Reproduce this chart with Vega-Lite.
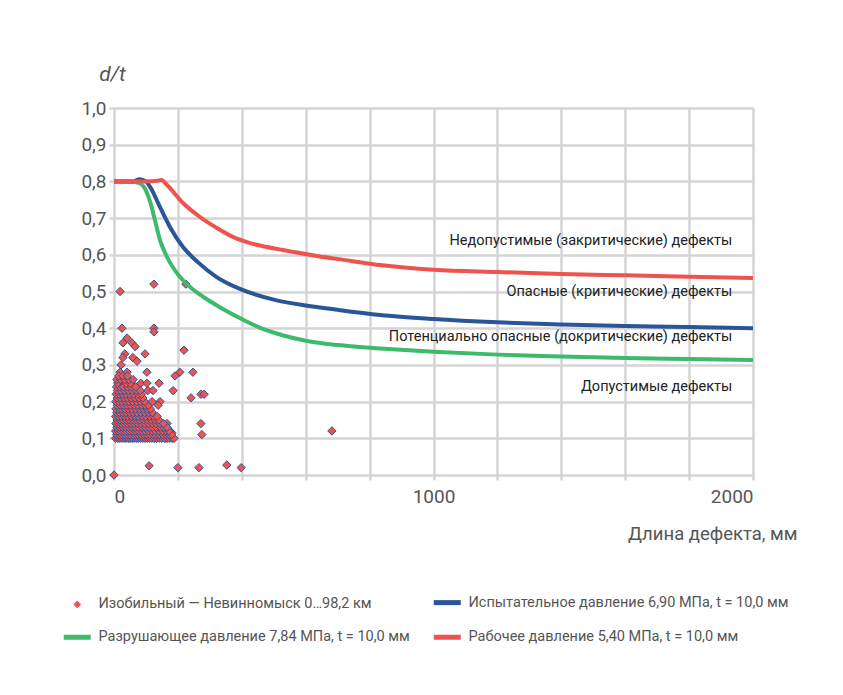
{
  "$schema": "https://vega.github.io/schema/vega-lite/v6.json",
  "autosize": {"type": "none"},
  "padding": {"left": 114, "top": 108, "right": 90, "bottom": 220},
  "width": 639,
  "height": 367,
  "background": "white",
  "config": {
    "font": "Roboto",
    "view": {"stroke": null},
    "axis": {
      "grid": true, "gridColor": "#d4d4d4", "gridWidth": 2.5,
      "domain": false, "tickColor": "#d4d4d4", "tickWidth": 2.5, "tickSize": 6,
      "labelColor": "#555555", "labelFontSize": 19, "titleColor": "#555555",
      "titleFontWeight": "normal", "titleFontSize": 18.5
    }
  },
  "datasets": {
    "curves": [
      {"s": "fail", "len": 0, "dt": 0.8}, {"s": "fail", "len": 50, "dt": 0.8}, {"s": "fail", "len": 80, "dt": 0.795},
      {"s": "fail", "len": 100, "dt": 0.775}, {"s": "fail", "len": 113, "dt": 0.745}, {"s": "fail", "len": 128, "dt": 0.695},
      {"s": "fail", "len": 144, "dt": 0.64}, {"s": "fail", "len": 166, "dt": 0.594}, {"s": "fail", "len": 197, "dt": 0.55},
      {"s": "fail", "len": 238, "dt": 0.512}, {"s": "fail", "len": 280, "dt": 0.485}, {"s": "fail", "len": 330, "dt": 0.458},
      {"s": "fail", "len": 400, "dt": 0.425}, {"s": "fail", "len": 460, "dt": 0.4}, {"s": "fail", "len": 530, "dt": 0.38},
      {"s": "fail", "len": 600, "dt": 0.366}, {"s": "fail", "len": 700, "dt": 0.354}, {"s": "fail", "len": 833, "dt": 0.345},
      {"s": "fail", "len": 1000, "dt": 0.336}, {"s": "fail", "len": 1200, "dt": 0.328}, {"s": "fail", "len": 1400, "dt": 0.323},
      {"s": "fail", "len": 1600, "dt": 0.319}, {"s": "fail", "len": 1800, "dt": 0.316}, {"s": "fail", "len": 2000, "dt": 0.313},
      {"s": "test", "len": 0, "dt": 0.8}, {"s": "test", "len": 60, "dt": 0.8}, {"s": "test", "len": 80, "dt": 0.806},
      {"s": "test", "len": 100, "dt": 0.8}, {"s": "test", "len": 113, "dt": 0.785}, {"s": "test", "len": 144, "dt": 0.73},
      {"s": "test", "len": 175, "dt": 0.676}, {"s": "test", "len": 216, "dt": 0.621}, {"s": "test", "len": 265, "dt": 0.578},
      {"s": "test", "len": 320, "dt": 0.54}, {"s": "test", "len": 400, "dt": 0.505}, {"s": "test", "len": 500, "dt": 0.478},
      {"s": "test", "len": 600, "dt": 0.462}, {"s": "test", "len": 700, "dt": 0.45}, {"s": "test", "len": 833, "dt": 0.436},
      {"s": "test", "len": 1000, "dt": 0.425}, {"s": "test", "len": 1200, "dt": 0.416}, {"s": "test", "len": 1400, "dt": 0.41},
      {"s": "test", "len": 1600, "dt": 0.406}, {"s": "test", "len": 1800, "dt": 0.403}, {"s": "test", "len": 2000, "dt": 0.4},
      {"s": "work", "len": 0, "dt": 0.8}, {"s": "work", "len": 100, "dt": 0.8}, {"s": "work", "len": 135, "dt": 0.802},
      {"s": "work", "len": 148, "dt": 0.804}, {"s": "work", "len": 166, "dt": 0.79}, {"s": "work", "len": 216, "dt": 0.741},
      {"s": "work", "len": 269, "dt": 0.703}, {"s": "work", "len": 322, "dt": 0.673}, {"s": "work", "len": 372, "dt": 0.649},
      {"s": "work", "len": 426, "dt": 0.632}, {"s": "work", "len": 529, "dt": 0.613}, {"s": "work", "len": 635, "dt": 0.597},
      {"s": "work", "len": 738, "dt": 0.584}, {"s": "work", "len": 833, "dt": 0.572}, {"s": "work", "len": 1000, "dt": 0.559},
      {"s": "work", "len": 1200, "dt": 0.553}, {"s": "work", "len": 1400, "dt": 0.548}, {"s": "work", "len": 1600, "dt": 0.544},
      {"s": "work", "len": 1800, "dt": 0.54}, {"s": "work", "len": 2000, "dt": 0.537}
    ],
    "defects": [
      {"len": 19, "dt": 0.5}, {"len": 125, "dt": 0.52}, {"len": 225, "dt": 0.52}, {"len": 25, "dt": 0.4}, {"len": 125, "dt": 0.4},
      {"len": 125, "dt": 0.39}, {"len": 41, "dt": 0.373}, {"len": 28, "dt": 0.36}, {"len": 56, "dt": 0.36}, {"len": 66, "dt": 0.35},
      {"len": 219, "dt": 0.34}, {"len": 34, "dt": 0.33}, {"len": 97, "dt": 0.33}, {"len": 28, "dt": 0.32}, {"len": 59, "dt": 0.32},
      {"len": 72, "dt": 0.31}, {"len": 22, "dt": 0.3}, {"len": 19, "dt": 0.28}, {"len": 41, "dt": 0.28}, {"len": 103, "dt": 0.28},
      {"len": 206, "dt": 0.28}, {"len": 191, "dt": 0.27}, {"len": 247, "dt": 0.28}, {"len": 25, "dt": 0.25}, {"len": 84, "dt": 0.25},
      {"len": 103, "dt": 0.25}, {"len": 141, "dt": 0.25}, {"len": 185, "dt": 0.23}, {"len": 241, "dt": 0.21}, {"len": 272, "dt": 0.22},
      {"len": 282, "dt": 0.22}, {"len": 144, "dt": 0.2}, {"len": 138, "dt": 0.19}, {"len": 166, "dt": 0.14}, {"len": 272, "dt": 0.14},
      {"len": 275, "dt": 0.11}, {"len": 181, "dt": 0.115}, {"len": 175, "dt": 0.12}, {"len": 160, "dt": 0.1}, {"len": 110, "dt": 0.025},
      {"len": 200, "dt": 0.02}, {"len": 266, "dt": 0.02}, {"len": 353, "dt": 0.027}, {"len": 398, "dt": 0.02}, {"len": 0, "dt": 0.0},
      {"len": 682, "dt": 0.12}, {"len": 106, "dt": 0.23}, {"len": 122, "dt": 0.23},
      {"len": 5, "dt": 0.1}, {"len": 12, "dt": 0.1}, {"len": 18, "dt": 0.1}, {"len": 25, "dt": 0.1}, {"len": 31, "dt": 0.1},
      {"len": 38, "dt": 0.1}, {"len": 44, "dt": 0.1}, {"len": 50, "dt": 0.1}, {"len": 57, "dt": 0.1}, {"len": 63, "dt": 0.1},
      {"len": 70, "dt": 0.1}, {"len": 76, "dt": 0.1}, {"len": 83, "dt": 0.1}, {"len": 90, "dt": 0.1}, {"len": 97, "dt": 0.1},
      {"len": 104, "dt": 0.1}, {"len": 111, "dt": 0.1}, {"len": 118, "dt": 0.1}, {"len": 126, "dt": 0.1}, {"len": 134, "dt": 0.1},
      {"len": 142, "dt": 0.1}, {"len": 150, "dt": 0.1}, {"len": 158, "dt": 0.1}, {"len": 166, "dt": 0.1}, {"len": 174, "dt": 0.1},
      {"len": 182, "dt": 0.1}, {"len": 188, "dt": 0.1},
      {"len": 8, "dt": 0.11}, {"len": 16, "dt": 0.11}, {"len": 24, "dt": 0.11}, {"len": 33, "dt": 0.11}, {"len": 41, "dt": 0.11},
      {"len": 50, "dt": 0.11}, {"len": 58, "dt": 0.11}, {"len": 66, "dt": 0.11}, {"len": 75, "dt": 0.11}, {"len": 84, "dt": 0.11},
      {"len": 93, "dt": 0.11}, {"len": 102, "dt": 0.11}, {"len": 112, "dt": 0.11}, {"len": 122, "dt": 0.11}, {"len": 132, "dt": 0.11},
      {"len": 142, "dt": 0.11}, {"len": 153, "dt": 0.11}, {"len": 163, "dt": 0.11}, {"len": 172, "dt": 0.11}, {"len": 180, "dt": 0.11},
      {"len": 5, "dt": 0.12}, {"len": 13, "dt": 0.12}, {"len": 21, "dt": 0.12}, {"len": 30, "dt": 0.12}, {"len": 39, "dt": 0.12},
      {"len": 48, "dt": 0.12}, {"len": 57, "dt": 0.12}, {"len": 67, "dt": 0.12}, {"len": 77, "dt": 0.12}, {"len": 87, "dt": 0.12},
      {"len": 97, "dt": 0.12}, {"len": 108, "dt": 0.12}, {"len": 119, "dt": 0.12}, {"len": 130, "dt": 0.12}, {"len": 141, "dt": 0.12},
      {"len": 152, "dt": 0.12}, {"len": 163, "dt": 0.12}, {"len": 172, "dt": 0.12},
      {"len": 9, "dt": 0.13}, {"len": 18, "dt": 0.13}, {"len": 27, "dt": 0.13}, {"len": 36, "dt": 0.13}, {"len": 46, "dt": 0.13},
      {"len": 56, "dt": 0.13}, {"len": 66, "dt": 0.13}, {"len": 77, "dt": 0.13}, {"len": 88, "dt": 0.13}, {"len": 99, "dt": 0.13},
      {"len": 110, "dt": 0.13}, {"len": 121, "dt": 0.13}, {"len": 133, "dt": 0.13}, {"len": 145, "dt": 0.13}, {"len": 156, "dt": 0.13},
      {"len": 166, "dt": 0.13},
      {"len": 6, "dt": 0.14}, {"len": 14, "dt": 0.14}, {"len": 23, "dt": 0.14}, {"len": 32, "dt": 0.14}, {"len": 42, "dt": 0.14},
      {"len": 52, "dt": 0.14}, {"len": 63, "dt": 0.14}, {"len": 74, "dt": 0.14}, {"len": 85, "dt": 0.14}, {"len": 96, "dt": 0.14},
      {"len": 108, "dt": 0.14}, {"len": 120, "dt": 0.14}, {"len": 132, "dt": 0.14}, {"len": 144, "dt": 0.14}, {"len": 155, "dt": 0.14},
      {"len": 10, "dt": 0.15}, {"len": 19, "dt": 0.15}, {"len": 28, "dt": 0.15}, {"len": 38, "dt": 0.15}, {"len": 48, "dt": 0.15},
      {"len": 59, "dt": 0.15}, {"len": 70, "dt": 0.15}, {"len": 81, "dt": 0.15}, {"len": 93, "dt": 0.15}, {"len": 105, "dt": 0.15},
      {"len": 117, "dt": 0.15}, {"len": 129, "dt": 0.15}, {"len": 140, "dt": 0.15},
      {"len": 5, "dt": 0.16}, {"len": 14, "dt": 0.16}, {"len": 23, "dt": 0.16}, {"len": 33, "dt": 0.16}, {"len": 43, "dt": 0.16},
      {"len": 54, "dt": 0.16}, {"len": 65, "dt": 0.16}, {"len": 76, "dt": 0.16}, {"len": 88, "dt": 0.16}, {"len": 100, "dt": 0.16},
      {"len": 112, "dt": 0.16}, {"len": 124, "dt": 0.16}, {"len": 135, "dt": 0.16},
      {"len": 9, "dt": 0.17}, {"len": 18, "dt": 0.17}, {"len": 28, "dt": 0.17}, {"len": 38, "dt": 0.17}, {"len": 49, "dt": 0.17},
      {"len": 60, "dt": 0.17}, {"len": 72, "dt": 0.17}, {"len": 84, "dt": 0.17}, {"len": 96, "dt": 0.17}, {"len": 108, "dt": 0.17},
      {"len": 120, "dt": 0.17},
      {"len": 6, "dt": 0.18}, {"len": 15, "dt": 0.18}, {"len": 24, "dt": 0.18}, {"len": 34, "dt": 0.18}, {"len": 45, "dt": 0.18},
      {"len": 56, "dt": 0.18}, {"len": 68, "dt": 0.18}, {"len": 80, "dt": 0.18}, {"len": 92, "dt": 0.18}, {"len": 104, "dt": 0.18},
      {"len": 114, "dt": 0.18},
      {"len": 10, "dt": 0.19}, {"len": 19, "dt": 0.19}, {"len": 29, "dt": 0.19}, {"len": 40, "dt": 0.19}, {"len": 51, "dt": 0.19},
      {"len": 63, "dt": 0.19}, {"len": 75, "dt": 0.19}, {"len": 87, "dt": 0.19}, {"len": 98, "dt": 0.19}, {"len": 108, "dt": 0.19},
      {"len": 6, "dt": 0.2}, {"len": 15, "dt": 0.2}, {"len": 25, "dt": 0.2}, {"len": 36, "dt": 0.2}, {"len": 47, "dt": 0.2},
      {"len": 59, "dt": 0.2}, {"len": 71, "dt": 0.2}, {"len": 83, "dt": 0.2}, {"len": 96, "dt": 0.2}, {"len": 119, "dt": 0.2},
      {"len": 10, "dt": 0.21}, {"len": 20, "dt": 0.21}, {"len": 31, "dt": 0.21}, {"len": 42, "dt": 0.21}, {"len": 54, "dt": 0.21},
      {"len": 66, "dt": 0.21}, {"len": 78, "dt": 0.21}, {"len": 90, "dt": 0.21},
      {"len": 7, "dt": 0.22}, {"len": 16, "dt": 0.22}, {"len": 27, "dt": 0.22}, {"len": 38, "dt": 0.22}, {"len": 50, "dt": 0.22},
      {"len": 62, "dt": 0.22}, {"len": 75, "dt": 0.22}, {"len": 86, "dt": 0.22},
      {"len": 11, "dt": 0.23}, {"len": 22, "dt": 0.23}, {"len": 33, "dt": 0.23}, {"len": 45, "dt": 0.23}, {"len": 57, "dt": 0.23},
      {"len": 70, "dt": 0.23}, {"len": 82, "dt": 0.23},
      {"len": 8, "dt": 0.24}, {"len": 18, "dt": 0.24}, {"len": 30, "dt": 0.24}, {"len": 42, "dt": 0.24}, {"len": 55, "dt": 0.24},
      {"len": 68, "dt": 0.24},
      {"len": 12, "dt": 0.25}, {"len": 38, "dt": 0.25}, {"len": 52, "dt": 0.25},
      {"len": 9, "dt": 0.26}, {"len": 20, "dt": 0.26}, {"len": 33, "dt": 0.26}, {"len": 47, "dt": 0.26}, {"len": 60, "dt": 0.26},
      {"len": 15, "dt": 0.27}, {"len": 28, "dt": 0.27}, {"len": 42, "dt": 0.27}
    ],
    "zones": [
      {"len": 1935, "dt": 0.638, "label": "Недопустимые (закритические) дефекты"},
      {"len": 1935, "dt": 0.499, "label": "Опасные (критические) дефекты"},
      {"len": 1935, "dt": 0.376, "label": "Потенциально опасные (докритические) дефекты"},
      {"len": 1935, "dt": 0.24, "label": "Допустимые дефекты"}
    ]
  },
  "encoding": {
    "x": {
      "field": "len", "type": "quantitative",
      "scale": {"domain": [0, 2000], "nice": false, "zero": false},
      "axis": {
        "values": [0, 200, 400, 600, 800, 1000, 1200, 1400, 1600, 1800, 2000],
        "labelExpr": "datum.value % 1000 === 0 ? format(datum.value, 'd') : ''",
        "labelPadding": 7, "tickSize": 5,
        "title": "Длина дефекта, мм",
        "titleAnchor": null, "titleAlign": "right", "titleBaseline": "alphabetic",
        "titleX": 683, "titleY": 64
      }
    },
    "y": {
      "field": "dt", "type": "quantitative",
      "scale": {"domain": [0, 1], "nice": false},
      "axis": {
        "values": [0, 0.1, 0.2, 0.3, 0.4, 0.5, 0.6, 0.7, 0.8, 0.9, 1.0],
        "labelExpr": "replace(format(datum.value, '.1f'), '.', ',')",
        "labelPadding": 3, "tickSize": 5,
        "title": "d/t", "titleAngle": 0, "titleFontStyle": "italic", "titleFontSize": 21,
        "titleAnchor": null, "titleAlign": "center", "titleBaseline": "alphabetic",
        "titleX": -2, "titleY": -28
      }
    }
  },
  "layer": [
    {
      "data": {"name": "defects"},
      "mark": {"type": "point", "shape": "diamond", "filled": true, "size": 70, "stroke": "#2a5599", "strokeWidth": 1, "opacity": 1},
      "encoding": {
        "color": {
          "datum": "pts",
          "scale": {"domain": ["pts", "test", "fail", "work"], "range": ["#ef5350", "#2a5599", "#3dbb6b", "#ef5350"]}
        }
      }
    },
    {
      "data": {"name": "curves"},
      "mark": {"type": "line", "strokeWidth": 4, "interpolate": "monotone"},
      "encoding": {
        "color": {
          "field": "s", "type": "nominal",
          "scale": {"domain": ["pts", "test", "fail", "work"], "range": ["#ef5350", "#2a5599", "#3dbb6b", "#ef5350"]},
          "legend": {
            "title": null, "orient": "none", "legendX": -44, "legendY": 487,
            "columns": 2, "direction": "horizontal", "columnPadding": 13, "rowPadding": 14,
            "labelFontSize": 14.5, "labelColor": "#555555", "labelOffset": 14, "labelLimit": 500,
            "labelExpr": "datum.value == 'pts' ? 'Изобильный — Невинномыск 0…98,2 км' : datum.value == 'test' ? 'Испытательное давление 6,90 МПа, t = 10,0 мм' : datum.value == 'fail' ? 'Разрушающее давление 7,84 МПа, t = 10,0 мм' : 'Рабочее давление 5,40 МПа, t = 10,0 мм'",
            "encode": {
              "symbols": {
                "update": {
                  "shape": {"signal": "datum.value == 'pts' ? 'diamond' : 'stroke'"},
                  "size": {"signal": "datum.value == 'pts' ? 45 : 729"},
                  "fill": {"signal": "datum.value == 'pts' ? '#ef5350' : 'transparent'"},
                  "stroke": {"signal": "datum.value == 'pts' ? '#2a5599' : datum.value == 'test' ? '#2a5599' : datum.value == 'fail' ? '#3dbb6b' : '#ef5350'"},
                  "strokeWidth": {"signal": "datum.value == 'pts' ? 1 : 5"},
                  "opacity": {"value": 1}
                }
              }
            }
          }
        },
        "order": {"field": "s", "sort": "ascending"}
      }
    },
    {
      "data": {"name": "zones"},
      "mark": {"type": "text", "align": "right", "baseline": "middle", "fontSize": 14.5, "color": "#222222"},
      "encoding": {"text": {"field": "label"}}
    }
  ]
}
